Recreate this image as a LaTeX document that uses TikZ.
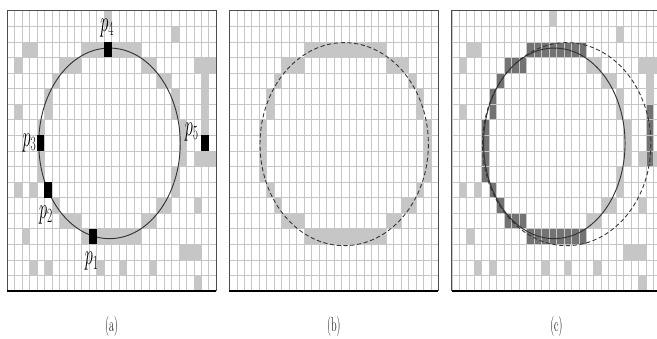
\documentclass[tikz,border=0pt]{standalone}
\usepackage{amsmath}

% grey cells shared by panels (a) and (c): col/row
\newcommand{\noisecells}{13/0, 22/1, 2/2, 3/2, 1/3, 18/3, 19/3, 25/3, 26/3, 27/3,
  20/4, 21/4, 26/4, 22/5, 26/5, 1/6, 22/6, 23/7, 23/8, 23/9, 25/9, 27/9, 22/10,
  1/11, 3/11, 22/11, 20/12, 21/12, 25/12, 18/13, 19/13, 2/14, 23/15, 24/15, 25/15,
  3/16, 5/16, 12/16, 15/16, 19/16, 25/17}
% cells hit by the fitted circle (and the p5 column)
\newcommand{\arccells}{10/2, 11/2, 12/2, 14/2, 15/2, 16/2, 17/2, 7/3, 8/3, 9/3,
  6/4, 5/5, 5/6, 4/7, 4/9, 4/10, 6/12, 7/13, 8/13, 9/13, 10/14, 12/14, 13/14,
  14/14, 15/14, 16/14, 17/14, 26/6, 26/7, 26/9}
% cells of the true circle in panel (b)
\newcommand{\ringcells}{7/3, 8/3, 9/3, 21/3, 22/3, 23/3, 6/4, 24/4, 5/5, 25/5,
  5/6, 25/6, 4/7, 26/7, 4/8, 26/8, 4/9, 26/9, 4/10, 26/10, 5/11, 25/11, 6/12,
  23/12, 24/12, 7/13, 8/13, 9/13, 21/13, 22/13}

\begin{document}
\begin{tikzpicture}[x=0.03cm, y=-0.03cm,
  gridln/.style={draw=gray!45, line width=0.45pt},
  frame/.style={draw=black!70, line width=0.6pt},
  baseln/.style={draw=black, line width=1.3pt},
  lcell/.style={fill=gray!45},
  dcell/.style={fill=black!55},
  ptbox/.style={fill=black, inner sep=0pt, minimum width=0.2241cm,
    minimum height=0.4671cm},
  fitline/.style={draw=black!80, line width=0.8pt},
  trueline/.style={draw=black!80, line width=0.75pt, dash pattern=on 3.6pt off 2.2pt},
  plabel/.style={font=\fontsize{23}{24}\selectfont, xscale=0.56, inner sep=0pt},
  caption/.style={font=\fontsize{17}{20}\selectfont, xscale=0.55, inner sep=0pt},
]
\useasboundingbox (0,0) rectangle (657,338);
\clip (0,0) rectangle (657,338);

% ── Panel (a): edge cells and sample points ──
\begin{scope}[shift={(7,10.7)}, x=0.2241cm, y=-0.4671cm]
  \foreach \c/\r in \noisecells {\fill[lcell] (\c,\r) rectangle ++(1,1);}
  \foreach \c/\r in \arccells {\fill[lcell] (\c,\r) rectangle ++(1,1);}
  \foreach \i in {0,...,28} {\draw[gridln] (\i,0) -- (\i,18);}
  \foreach \j in {0,...,18} {\draw[gridln] (0,\j) -- (28,\j);}
  \draw[frame] (0,18) -- (0,0) -- (28,0) -- (28,18);
  \draw[baseln] (0,18) -- (28,18);
  \draw[fitline] (13.72,8.52) ellipse [x radius=9.47, y radius=6.12];
  \node[ptbox] (P1) at (11.5,14.5) {};
  \node[ptbox] (P2) at (5.5,11.5) {};
  \node[ptbox] (P3) at (4.5,8.5) {};
  \node[ptbox] (P4) at (13.5,2.5) {};
  \node[ptbox] (P5) at (26.5,8.5) {};
  \node[plabel] (lp1) at (11.34,16.1) {$p_1$};
  \node[plabel] (lp2) at (5.22,13.1) {$p_2$};
  \node[plabel] (lp3) at (3.0,8.5) {$p_3$};
  \node[plabel] (lp4) at (13.4,1.1) {$p_4$};
  \node[plabel] (lp5) at (24.7,7.8) {$p_5$};
  \node[caption] (capa) at (14,20.3) {(a)};
\end{scope}

% ── Panel (b): true circle ──
\begin{scope}[shift={(229.3,10.7)}, x=0.2241cm, y=-0.4671cm]
  \foreach \c in {10,...,20} {\fill[lcell] (\c,2) rectangle ++(1,1);
    \fill[lcell] (\c,14) rectangle ++(1,1);}
  \foreach \c/\r in \ringcells {\fill[lcell] (\c,\r) rectangle ++(1,1);}
  \foreach \i in {0,...,28} {\draw[gridln] (\i,0) -- (\i,18);}
  \foreach \j in {0,...,18} {\draw[gridln] (0,\j) -- (28,\j);}
  \draw[frame] (0,18) -- (0,0) -- (28,0) -- (28,18);
  \draw[baseln] (0,18) -- (28,18);
  \draw[trueline] (15.38,8.57) ellipse [x radius=11.27, y radius=6.52];
  \node[caption] (capb) at (14,20.3) {(b)};
\end{scope}

% ── Panel (c): fitted vs. true ──
\begin{scope}[shift={(451.8,10.7)}, x=0.2241cm, y=-0.4671cm]
  \foreach \c/\r in \noisecells {\fill[lcell] (\c,\r) rectangle ++(1,1);}
  \foreach \c/\r in \arccells {\fill[dcell] (\c,\r) rectangle ++(1,1);}
  \foreach \c/\r in {11/14, 5/11, 4/8, 13/2, 26/8} {\fill[dcell] (\c,\r) rectangle ++(1,1);}
  \foreach \i in {0,...,28} {\draw[gridln] (\i,0) -- (\i,18);}
  \foreach \j in {0,...,18} {\draw[gridln] (0,\j) -- (28,\j);}
  \draw[frame] (0,18) -- (0,0) -- (28,0) -- (28,18);
  \draw[baseln] (0,18) -- (28,18);
  \draw[fitline] (13.72,8.52) ellipse [x radius=9.47, y radius=6.12];
  \draw[trueline] (15.38,8.57) ellipse [x radius=11.27, y radius=6.52];
  \node[caption] (capc) at (14,20.3) {(c)};
\end{scope}
\end{tikzpicture}
\end{document}
